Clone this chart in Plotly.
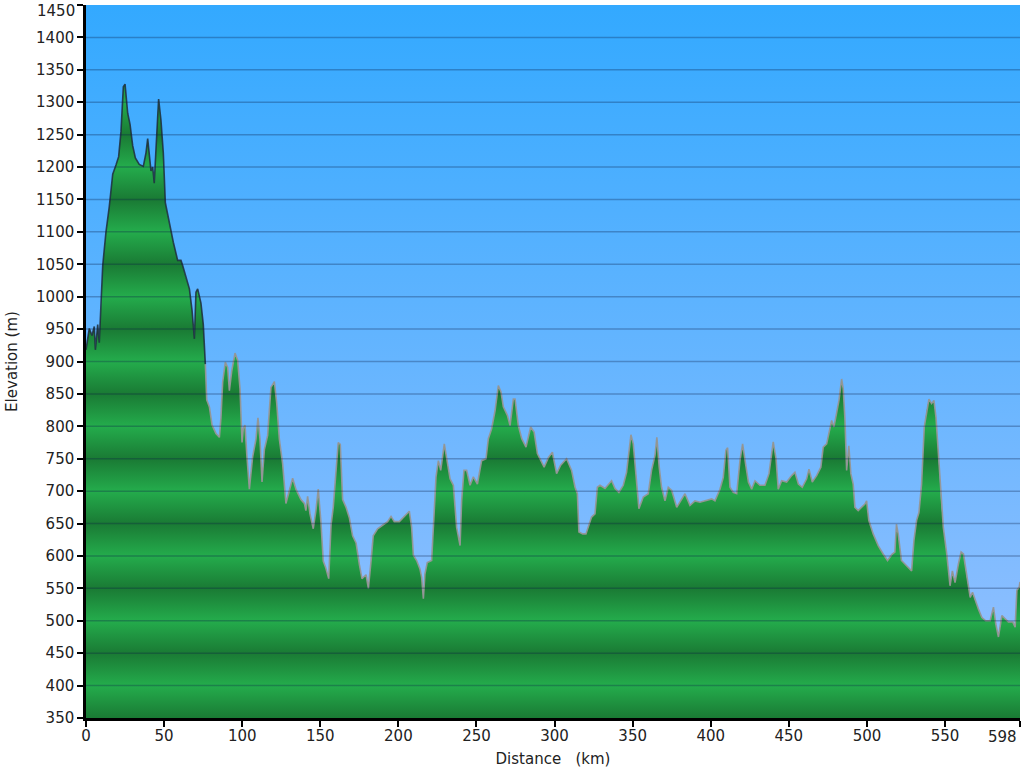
import plotly.graph_objects as go

# ---- data ----
distance_km = [
    0, 2.1, 3.8, 5.3, 6.0, 7.5, 8.5, 9.0, 9.6, 10.7, 11.7, 12.8, 14.9, 17.1, 19.2, 20.9,
    22.4, 23.9, 25.0, 25.6, 26.7, 28.2, 29.9, 31.6, 34.1, 36.7, 38.4, 39.5, 40.5, 41.6,
    42.7, 43.7, 44.8, 45.9, 46.5, 48.0, 49.5, 50.8, 53.4, 55.9, 58.7, 60.8, 61.9, 64.0,
    66.2, 67.9, 69.4, 70.4, 71.5, 73.6, 75.1, 76.4, 77.3, 79.0, 80.7, 83.2, 85.4, 86.4,
    87.5, 89.2, 90.7, 91.8, 93.3, 95.4, 97.1, 98.6, 99.9, 100.7, 101.8, 102.9, 104.6,
    106.7, 108.8, 110.1, 111.4, 112.7, 114.2, 116.3, 118.4, 120.6, 122.1, 123.8, 125.9,
    128.0, 130.2, 132.3, 134.4, 137.6, 139.8, 140.8, 141.9, 143.4, 145.5, 147.2, 148.7,
    150.4, 151.9, 153.6, 155.4, 156.9, 158.3, 160.1, 161.5, 162.8, 164.3, 166.5, 168.6,
    170.7, 172.9, 175.0, 176.7, 179.3, 180.8, 182.5, 183.9, 186.7, 189.9, 193.1, 195.3,
    197.4, 200.6,
    204.2, 207.0, 208.5, 209.6, 211.7, 213.8, 214.9, 216.0, 217.0, 218.5, 221.3, 222.4,
    224.1, 225.6, 227.1, 229.4, 230.9, 233.1, 235.2, 237.3, 239.5, 240.5, 242.0, 243.7,
    245.9, 248.0, 250.6, 253.3, 256.1, 257.6, 259.7, 261.9, 264.0, 265.7, 267.2, 269.8,
    271.5, 273.6, 274.7, 276.8, 279.0, 281.7, 284.7, 286.9, 289.0, 290.7, 293.3, 296.1,
    298.6, 301.3, 303.9, 307.7, 310.9, 313.1, 314.6, 315.6, 318.0, 320.1, 323.7, 325.9,
    327.4, 329.1, 332.3, 336.5, 338.7, 341.2, 344.0, 346.1, 348.9, 350.4, 352.5, 354.0,
    356.8, 360.0, 362.1, 364.3, 365.5, 367.0, 368.5, 370.7, 372.8, 375.0, 378.2, 381.4,
    383.5, 386.7, 389.9, 393.1, 396.3, 400.6,
    402.7, 405.9, 408.0, 409.7, 410.8, 412.3, 414.4, 416.6, 418.7, 420.4, 422.3, 424.1,
    426.2, 428.3, 431.5, 434.7, 437.3, 440.0, 441.8, 443.2, 445.4, 448.6, 451.8, 453.9,
    456.1, 458.6, 461.4, 462.9, 465.0, 467.8, 470.5, 472.0, 474.2, 475.7, 477.4, 478.9,
    480.6, 482.1, 483.8, 484.8, 485.9, 487.0, 488.4, 489.7, 491.2, 492.3, 494.4, 496.5,
    498.7, 499.8, 501.2, 504.0, 507.2, 510.4, 513.2, 516.2, 517.9, 518.9, 520.0, 522.1,
    525.3, 528.6, 530.1, 531.8, 533.3, 535.0, 536.7, 538.2, 539.7, 541.4, 542.9, 544.2,
    545.7, 547.4, 548.9, 551.1, 553.2, 554.7, 556.4, 558.6, 560.3, 561.8, 563.9, 566.1,
    567.6, 569.3, 571.4, 573.6, 576.1, 578.9, 581.0, 582.5, 584.2, 586.4, 588.5, 590.6,
    593.4, 594.9, 596.0, 597.5, 598.0,
]
elevation_m = [
    918, 951, 940, 954, 918, 957, 929, 963, 979, 1048, 1073, 1100, 1139, 1189, 1203, 1216,
    1255, 1324, 1328, 1310, 1283, 1266, 1233, 1214, 1204, 1201, 1222, 1244, 1222, 1194,
    1200, 1175, 1227, 1283, 1305, 1272, 1222, 1145, 1112, 1084, 1056, 1056, 1048, 1029,
    1012, 979, 935, 1007, 1012, 990, 957, 896, 841, 830, 802, 789, 783, 813,
    868, 899, 891, 855, 885, 913, 902, 858, 775, 797, 802, 758, 703,
    753, 780, 813, 780, 714, 764, 786, 860, 869, 836, 780, 742,
    681, 703, 720, 703, 687, 681, 670, 692, 665, 642, 670, 703,
    653, 592, 581, 565, 648, 675, 731, 775, 772, 687, 675, 659,
    631, 620, 587, 565, 571, 550, 592, 631, 642, 648, 653, 661,
    653, 653,
    662, 669, 644, 601, 593, 580, 567, 534, 572, 590, 593, 644,
    722, 747, 732, 773, 752, 719, 709, 644, 616, 685, 732, 732,
    709, 722, 711, 747, 750, 781, 796, 824, 863, 853, 830, 817,
    801, 842, 842, 801, 781, 768, 799, 791, 758, 750, 737, 752,
    760, 727, 740, 750, 732, 706, 696, 637, 634, 634, 660, 665,
    706, 709, 704, 716, 704, 698, 709, 729, 787, 773, 716, 673,
    691, 696, 732, 755, 783, 737, 706, 685, 706, 701, 675, 688,
    696, 678, 685, 683, 685, 688,
    685, 703, 721, 763, 767, 706, 698, 696, 747, 773, 742, 714,
    703, 716, 709, 709, 727, 776, 750, 703, 716, 714, 724, 729,
    711, 706, 719, 734, 714, 724, 737, 768, 773, 791, 809, 799,
    822, 840, 873, 858, 812, 732, 770, 727, 711, 675, 670, 675,
    680, 685, 655, 634, 616, 603, 593, 603, 606, 649, 634, 593,
    585, 577, 624, 655, 667, 711, 799, 824, 842, 835, 840, 814,
    758, 685, 644, 603, 554, 577, 559, 588, 606, 603, 567, 536,
    544, 531, 518, 505, 500, 500, 521, 495, 475, 508, 503, 498,
    498, 490, 547, 552, 560,
]
x_tick_values = [0, 50, 100, 150, 200, 250, 300, 350, 400, 450, 500, 550, 598]
y_tick_values = list(range(350, 1451, 50))
x_range = [0, 598]
y_range = [350, 1450]
dark_outline_until_km = 76.4

# ---- styling ----
font_family = "DejaVu Sans, Verdana, sans-serif"
tick_font = 15
text_color = "#222"
green_light = "rgb(36,172,76)"
green_dark = "rgb(26,122,52)"
n_bands = (y_range[1] - y_range[0]) // 50
green_scale = []
for i in range(n_bands + 1):
    v = y_range[0] + 50 * i
    green_scale.append([i / n_bands, green_light if v % 100 == 0 else green_dark])

fig = go.Figure()

# sky background (gradient)
fig.add_trace(go.Scatter(
    x=x_range, y=[y_range[1], y_range[1]], mode="none", fill="tozeroy",
    fillgradient=dict(type="vertical", start=y_range[0], stop=y_range[1],
                      colorscale=[[0, "#98c1ff"], [1, "#33a9ff"]]),
    hoverinfo="skip", showlegend=False,
))

# terrain fill with horizontal striping
fig.add_trace(go.Scatter(
    x=distance_km, y=elevation_m, mode="none", fill="tozeroy",
    fillgradient=dict(type="vertical", start=y_range[0], stop=y_range[1],
                      colorscale=green_scale),
    showlegend=False,
))

split = max(i for i, d in enumerate(distance_km) if d <= dark_outline_until_km)
fig.add_trace(go.Scatter(
    x=distance_km[split:], y=elevation_m[split:], mode="lines",
    line=dict(color="rgba(150,150,150,0.95)", width=1.6), showlegend=False,
))
fig.add_trace(go.Scatter(
    x=distance_km[:split + 1], y=elevation_m[:split + 1], mode="lines",
    line=dict(color="rgba(30,45,60,0.85)", width=1.6), showlegend=False,
))

shapes = []
for v in y_tick_values[1:-1]:
    shapes.append(dict(type="line", xref="paper", x0=0, x1=1, yref="y", y0=v, y1=v,
                       line=dict(color="rgba(10,30,70,0.30)", width=1.5), layer="above"))

# edge tick labels are drawn as annotations nudged inside the page
y_tick_text = [str(v) for v in y_tick_values]
y_tick_text[-1] = ""
x_tick_text = [str(v) for v in x_tick_values]
x_tick_text[-1] = ""
annotations = [
    dict(text=str(y_tick_values[-1]), x=0, xref="paper", y=y_tick_values[-1], yref="y",
         xanchor="right", yanchor="middle", xshift=-9, yshift=-6, showarrow=False,
         font=dict(size=tick_font, color=text_color, family=font_family)),
    dict(text=str(x_tick_values[-1]), x=x_tick_values[-1], xref="x", y=0, yref="paper",
         xanchor="right", yanchor="top", xshift=-1, yshift=-8, showarrow=False,
         font=dict(size=tick_font, color=text_color, family=font_family)),
]

fig.update_layout(
    width=1024, height=768,
    margin=dict(l=86, r=4, t=5, b=50),
    paper_bgcolor="white", plot_bgcolor="#6cb6ff",
    font=dict(family=font_family, size=tick_font, color=text_color),
    shapes=shapes, annotations=annotations,
    xaxis=dict(
        range=x_range, tickmode="array", tickvals=x_tick_values, ticktext=x_tick_text,
        showgrid=False, zeroline=False, showline=True, linecolor="black", linewidth=3,
        ticks="outside", ticklen=6, tickwidth=2, tickcolor="black",
        ticklabeloverflow="allow", automargin=False, ticklabelstandoff=-4,
        title=dict(text="Distance\u00a0\u00a0\u00a0(km)", font=dict(size=tick_font), standoff=12),
        fixedrange=True,
    ),
    yaxis=dict(
        range=y_range, tickmode="array", tickvals=y_tick_values, ticktext=y_tick_text,
        showgrid=False, zeroline=False, showline=True, linecolor="black", linewidth=2.5,
        ticks="outside", ticklen=6, tickwidth=2, tickcolor="black",
        ticklabeloverflow="allow", automargin=False,
        title=dict(text="Elevation (m)", font=dict(size=tick_font), standoff=15),
        fixedrange=True,
    ),
)

fig.write_html("out.html", config={"displayModeBar": False},
               post_script="document.body.style.margin='0px';")
